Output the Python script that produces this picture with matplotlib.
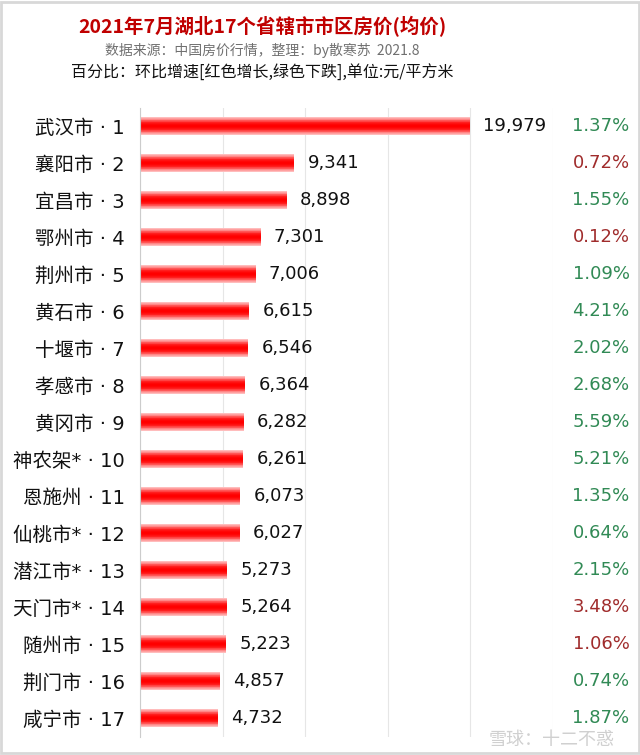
import numpy as np
import matplotlib.pyplot as plt
from matplotlib.patches import Rectangle

plt.rcParams['font.family'] = ['Noto Sans CJK SC', 'DejaVu Sans']
num_font = ['DejaVu Sans', 'Noto Sans CJK SC']

cities = ["武汉市", "襄阳市", "宜昌市", "鄂州市", "荆州市", "黄石市", "十堰市", "孝感市",
          "黄冈市", "神农架*", "恩施州", "仙桃市*", "潜江市*", "天门市*", "随州市", "荆门市", "咸宁市"]
prices = [19979, 9341, 8898, 7301, 7006, 6615, 6546, 6364,
          6282, 6261, 6073, 6027, 5273, 5264, 5223, 4857, 4732]
pct = [1.37, 0.72, 1.55, 0.12, 1.09, 4.21, 2.02, 2.68,
       5.59, 5.21, 1.35, 0.64, 2.15, 3.48, 1.06, 0.74, 1.87]
up = [False, True, False, True, False, False, False, False,
      False, False, False, False, False, True, True, False, False]

fig = plt.figure(figsize=(6.4, 7.55), dpi=100)
ax = fig.add_axes([0.21875, 0.0245, 0.645, 0.8331])

y = np.arange(len(cities))
# glossy bar: stack thinner bars getting redder toward the centre
n = 12
for k in range(n):
    t = k / (n - 1)
    h = 0.5 * (1 - 0.85 * t)
    c = (1.0, 0.85 * (1 - t) ** 1.5, 0.85 * (1 - t) ** 1.5)
    if k == 0:
        c = (1.0, 0.9, 0.9)
    ax.barh(y, prices, height=h, color=c, left=0, zorder=2 + k * 0.01)

for i, v in enumerate(prices):
    ax.text(v + 800, i, f"{v:,}", va='center', ha='left', fontsize=13,
            family=num_font, color='#111111', zorder=5)
    ax.text(1.186, i, f"{pct[i]:.2f}%", transform=ax.get_yaxis_transform(),
            va='center', ha='right', fontsize=13, family=num_font,
            color='#A02C2C' if up[i] else '#318A55')

ax.set_xlim(0, 25000)
ax.set_ylim(len(cities) - 0.5, -0.5)
ax.set_xticks(np.arange(0, 25001, 5000))
ax.grid(axis='x', color='#E6E6E6', linewidth=0.8, zorder=0)
ax.tick_params(axis='x', bottom=False, labelbottom=False)
ax.tick_params(axis='y', left=False, pad=7.5)
ax.set_yticks(y)
ax.set_yticklabels([f"{c} · {i + 1}" for i, c in enumerate(cities)], fontsize=14,
                   color='#111111', family=num_font)
for s in ['top', 'right', 'bottom']:
    ax.spines[s].set_visible(False)
ax.spines['left'].set_color('#CCCCCC')

cx = 262 / 640
fig.text(cx, 1 - 27 / 755, "2021年7月湖北17个省辖市市区房价(均价)", ha='center', va='center',
         fontsize=14, fontweight='bold', color='#C00000')
fig.text(cx, 1 - 50 / 755, "数据来源：中国房价行情，整理：by散寒苏  2021.8", ha='center',
         va='center', fontsize=10, color='#707070')
fig.text(cx, 1 - 73 / 755, "百分比：环比增速[红色增长,绿色下跌],单位:元/平方米", ha='center',
         va='center', fontsize=11.5, color='#111111')

fig.text(0.96, 1 - 740 / 755, "雪球：十二不惑", ha='right', va='center',
         fontsize=13, color='#D0D0D0')

fig.patches.append(Rectangle((0.002, 0.002), 0.996, 0.996, transform=fig.transFigure,
                             fill=False, edgecolor='#D8D8D8', linewidth=2))

fig.savefig("out.png", dpi=100)
